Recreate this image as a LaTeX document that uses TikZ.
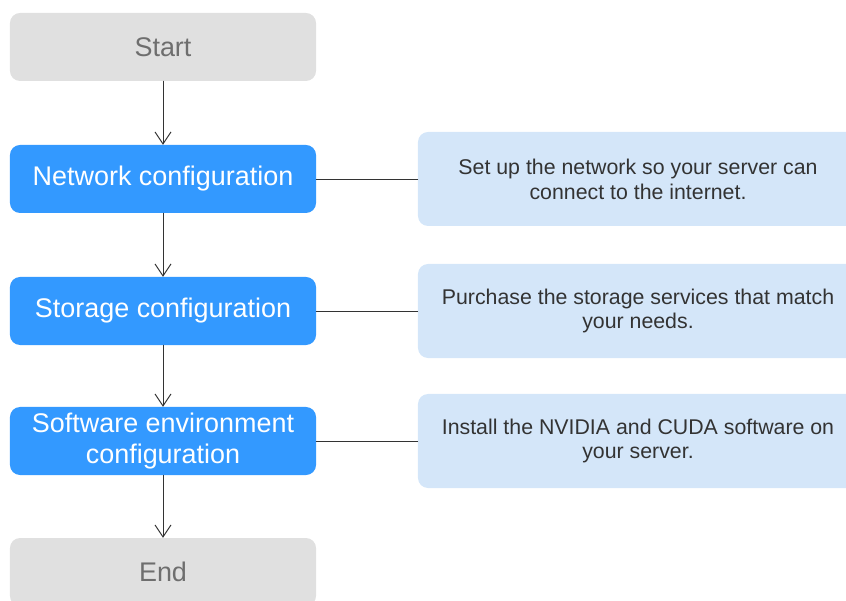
\documentclass[tikz,border=0pt]{standalone}
\usepackage{fontspec}
\setmainfont{Liberation Sans}
\usetikzlibrary{arrows.meta,positioning}

\definecolor{stepblue}{HTML}{3399FF}
\definecolor{notecyan}{HTML}{D4E6F9}
\definecolor{endgray}{HTML}{E0E0E0}
\definecolor{endtext}{HTML}{6E6E6E}
\definecolor{notetext}{HTML}{333333}
\definecolor{linegray}{HTML}{333333}

\begin{document}
\begin{tikzpicture}[x=0.03cm, y=-0.03cm, line join=round, line cap=round,
    >={Straight Barb[length=3.6mm,width=4.8mm]},
    endbox/.style={rectangle, rounded corners=0.3cm, fill=endgray, text=endtext,
      minimum width=9.18cm, minimum height=2.04cm, font=\fontsize{23}{26.5}\selectfont},
    stepbox/.style={rectangle, rounded corners=0.3cm, fill=stepblue, text=white, align=center,
      minimum width=9.18cm, minimum height=2.04cm, font=\fontsize{23}{26.5}\selectfont},
    notebox/.style={rectangle, rounded corners=0.3cm, fill=notecyan, text=notetext, align=center,
      minimum width=13.2cm, minimum height=2.82cm, font=\fontsize{18.2}{21.3}\selectfont},
    link/.style={draw=linegray, line width=0.8pt}]
	% Khung hình
	\useasboundingbox (0,0) rectangle (846,601);
	\clip (0,0) rectangle (846,601);
	
	% Các bước bên trái
	\node[endbox] (start) at (163,47) {Start};
	\node[stepbox] (net) at (163,179) {Network configuration};
	\node[stepbox] (sto) at (163,311) {Storage configuration};
	\node[stepbox] (soft) at (163,441) {Software environment\\configuration};
	\node[endbox] (stop) at (163,572) {End};
	
	% Ghi chú bên phải
	\node[notebox] (netnote) at (638,179) {Set up the network so your server can\\connect to the internet.};
	\node[notebox] (stonote) at (638,311) {Purchase the storage services that match\\your needs.};
	\node[notebox] (softnote) at (638,441) {Install the NVIDIA and CUDA software on\\your server.};
	
	% Mũi tên
	\foreach \a/\b in {start/net, net/sto, sto/soft, soft/stop}
		\draw[link,->] (\a) -- (\b);
	\foreach \a/\b in {net/netnote, sto/stonote, soft/softnote}
		\draw[link] (\a) -- (\b);
\end{tikzpicture}
\end{document}
